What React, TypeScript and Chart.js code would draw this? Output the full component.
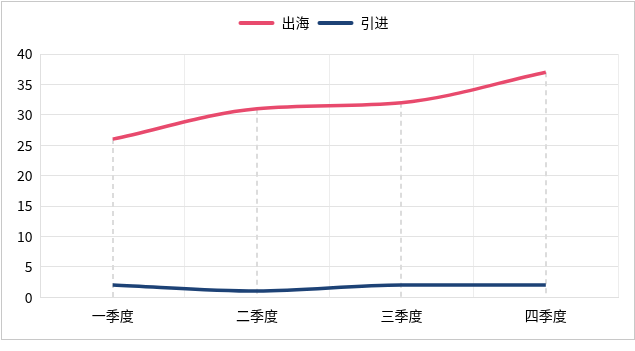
import React, { useEffect, useRef } from "react";
import { Chart, registerables } from "chart.js";

Chart.register(...registerables);

const categories = ["一季度", "二季度", "三季度", "四季度"];
const outboundValues = [26, 31, 32, 37];
const inboundValues = [2, 1, 2, 2];
const seriesNames = ["出海", "引进"];
const yTicks = { min: 0, max: 40, step: 5 };

const RED = "#e84a6d";
const NAVY = "#1d4276";
const FONT = "'Noto Sans CJK SC', 'Noto Sans', sans-serif";

const dropLines = {
  id: "dropLines",
  beforeDatasetsDraw(chart: any) {
    const { ctx, chartArea } = chart;
    const meta = chart.getDatasetMeta(0);
    ctx.save();
    ctx.strokeStyle = "#dcdcdc";
    ctx.lineWidth = 2;
    ctx.setLineDash([5, 4]);
    meta.data.forEach((pt: any) => {
      ctx.beginPath();
      ctx.moveTo(Math.round(pt.x), pt.y);
      ctx.lineTo(Math.round(pt.x), chartArea.bottom);
      ctx.stroke();
    });
    ctx.restore();
  },
};

const legendMargin = {
  id: "legendMargin",
  beforeInit(chart: any) {
    const orig = chart.legend.fit;
    chart.legend.fit = function () {
      orig.bind(chart.legend)();
      this.height += 14;
    };
  },
};

export default function App() {
  const ref = useRef<HTMLCanvasElement | null>(null);
  useEffect(() => {
    document.body.style.margin = "0";
    const chart = new Chart(ref.current!, {
      type: "line",
      data: {
        labels: categories,
        datasets: [
          {
            label: seriesNames[0],
            data: outboundValues,
            borderColor: RED,
            backgroundColor: RED,
            borderWidth: 3.5,
            pointRadius: 0,
            cubicInterpolationMode: "monotone",
          },
          {
            label: seriesNames[1],
            data: inboundValues,
            borderColor: NAVY,
            backgroundColor: NAVY,
            borderWidth: 3.5,
            pointRadius: 0,
            cubicInterpolationMode: "monotone",
          },
        ],
      },
      options: {
        animation: false,
        responsive: false,
        layout: { padding: { top: 6, right: 16, bottom: 5, left: 7 } },
        plugins: {
          legend: {
            position: "top",
            labels: {
              boxWidth: 36,
              boxHeight: 4,
              useBorderRadius: true,
              borderRadius: 2,
              padding: 8,
              color: "#000",
              font: { family: FONT, size: 14 },
              generateLabels(chart: any) {
                return chart.data.datasets.map((ds: any, i: number) => ({
                  text: ds.label,
                  fillStyle: ds.borderColor,
                  strokeStyle: ds.borderColor,
                  lineWidth: 0,
                  fontColor: "#000",
                  hidden: !chart.isDatasetVisible(i),
                  datasetIndex: i,
                  borderRadius: 2,
                }));
              },
            },
          },
          tooltip: { enabled: false },
        },
        scales: {
          x: {
            offset: true,
            grid: {
              offset: true,
              color: "#ededed",
              lineWidth: 1,
              drawTicks: false,
            },
            border: { color: "#e0e0e0" },
            ticks: {
              color: "#000",
              padding: 10,
              font: { family: FONT, size: 14 },
            },
          },
          y: {
            min: yTicks.min,
            max: yTicks.max,
            ticks: {
              stepSize: yTicks.step,
              color: "#000",
              padding: 8,
              font: { family: FONT, size: 14 },
            },
            grid: { color: "#e3e3e3", drawTicks: false },
            border: { color: "#e0e0e0" },
          },
        },
      },
      plugins: [dropLines, legendMargin],
    });
    return () => chart.destroy();
  }, []);
  return (
    <div
      style={{
        position: "absolute",
        left: 1,
        top: 1,
        width: 634,
        height: 339,
        border: "1px solid #c8c8c8",
        boxSizing: "border-box",
        background: "#fff",
      }}
    >
      <canvas ref={ref} width={632} height={337} style={{ display: "block" }} />
    </div>
  );
}
